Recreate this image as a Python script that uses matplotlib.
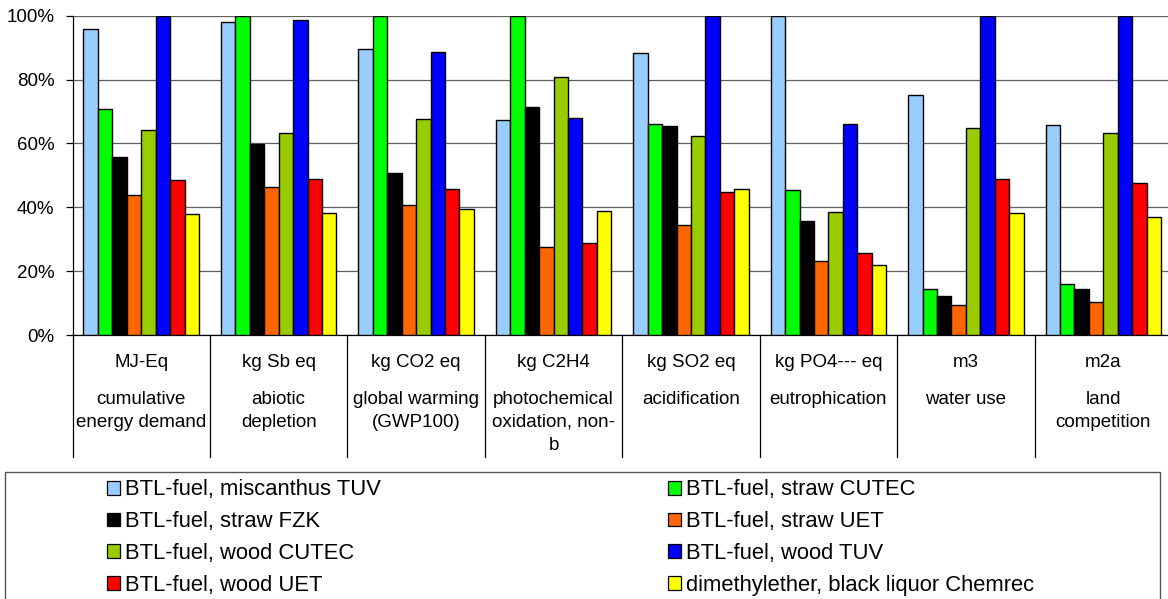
import matplotlib.pyplot as plt
import matplotlib.transforms as mtransforms
from matplotlib.patches import Patch, Rectangle
import numpy as np

plt.rcParams['font.family'] = ['Liberation Sans', 'DejaVu Sans']

# impact categories: unit + description (description may wrap)
units = ['MJ-Eq', 'kg Sb eq', 'kg CO2 eq', 'kg C2H4', 'kg SO2 eq',
         'kg PO4--- eq', 'm3', 'm2a']
descriptions = ['cumulative\nenergy demand', 'abiotic\ndepletion',
                'global warming\n(GWP100)', 'photochemical\noxidation, non-\nb',
                'acidification', 'eutrophication', 'water use',
                'land\ncompetition']

series_names = ['BTL-fuel, miscanthus TUV', 'BTL-fuel, straw CUTEC',
                'BTL-fuel, straw FZK', 'BTL-fuel, straw UET',
                'BTL-fuel, wood CUTEC', 'BTL-fuel, wood TUV',
                'BTL-fuel, wood UET', 'dimethylether, black liquor Chemrec']

# relative scores (% of the maximum within each category)
miscanthus_tuv = [95.7, 98.0, 89.5, 67.4, 88.3, 100.0, 75.2, 65.7]
straw_cutec = [70.7, 100.0, 100.0, 100.0, 66.2, 45.5, 14.4, 16.0]
straw_fzk = [55.8, 59.7, 50.7, 71.4, 65.5, 35.8, 12.2, 14.3]
straw_uet = [43.7, 46.4, 40.8, 27.6, 34.4, 23.2, 9.5, 10.2]
wood_cutec = [64.1, 63.2, 67.6, 80.8, 62.4, 38.6, 64.9, 63.4]
wood_tuv = [100.0, 98.7, 88.5, 67.9, 100.0, 66.0, 100.0, 100.0]
wood_uet = [48.4, 48.9, 45.7, 28.7, 44.8, 25.6, 48.9, 47.6]
dme_chemrec = [37.9, 38.3, 39.5, 38.8, 45.8, 21.8, 38.1, 37.1]

series = [miscanthus_tuv, straw_cutec, straw_fzk, straw_uet,
          wood_cutec, wood_tuv, wood_uet, dme_chemrec]
colors = ['#99CCFF', '#00FF00', '#000000', '#FF6600',
          '#99CC00', '#0000FF', '#FF0000', '#FFFF00']

W, H = 1168, 599
fig = plt.figure(figsize=(W / 100, H / 100), dpi=100)

# plot area in pixels (right edge runs slightly past the figure)
left_px, right_px, top_px, bottom_px = 72.5, 1172, 15.7, 335
ax = fig.add_axes([left_px / W, 1 - bottom_px / H,
                   (right_px - left_px) / W, (bottom_px - top_px) / H])

x = np.arange(len(units))
width = 0.105
for j, (vals, c) in enumerate(zip(series, colors)):
    ax.bar(x + (j - 3.5) * width, vals, width, color=c, edgecolor='black',
           linewidth=1.0, zorder=3)

ax.set_xlim(-0.5, len(units) - 0.5)
ax.set_ylim(0, 100)
ax.set_yticks(np.arange(0, 101, 20))
ax.set_yticklabels([f'{v}%' for v in range(0, 101, 20)], fontsize=13.5)
ax.tick_params(axis='y', length=5, width=0.9, pad=8)
ax.set_xticks([])
ax.yaxis.grid(True, color='#606060', linewidth=0.9, zorder=0)
ax.set_axisbelow(True)
for s in ['top', 'right']:
    ax.spines[s].set_visible(False)
ax.spines['left'].set_linewidth(0.9)
ax.spines['bottom'].set_linewidth(0.9)

# category label table under the axis
ax_h = bottom_px - top_px
trans = mtransforms.blended_transform_factory(ax.transData, ax.transAxes)
line_bottom = -(457 - bottom_px) / ax_h
for b in np.arange(-0.5, len(units), 1.0):
    ax.plot([b, b], [0, line_bottom], transform=trans, color='black',
            linewidth=0.9, clip_on=False)

for i, (u, d) in enumerate(zip(units, descriptions)):
    ax.text(i, -(362.3 - bottom_px) / ax_h, u, transform=trans,
            ha='center', va='center', fontsize=13.5)
    for k, line in enumerate(d.split('\n')):
        y_px = 399 + k * 23.3
        ax.text(i, -(y_px - bottom_px) / ax_h, line, transform=trans,
                ha='center', va='center', fontsize=13.5)

# legend frame (runs off the bottom edge)
fig.patches.append(Rectangle((4.5 / W, -0.05), (1160 - 4.5) / W,
                             (H - 471.5) / H + 0.05, transform=fig.transFigure,
                             facecolor='white', edgecolor='#555555',
                             linewidth=1.0, zorder=0))

handles = [Patch(facecolor=c, edgecolor='black', linewidth=0.9) for c in colors]
for col, x_px in enumerate([107, 668]):
    idx = [col, col + 2, col + 4, col + 6]
    fig.legend([handles[i] for i in idx], [series_names[i] for i in idx],
               loc='upper left', bbox_to_anchor=(x_px / W, 1 - 479.5 / H),
               frameon=False, fontsize=15.8, borderpad=0, borderaxespad=0,
               handlelength=0.6, handleheight=0.6, handletextpad=0.2,
               labelspacing=0.49)

fig.savefig('out.png', dpi=100)
